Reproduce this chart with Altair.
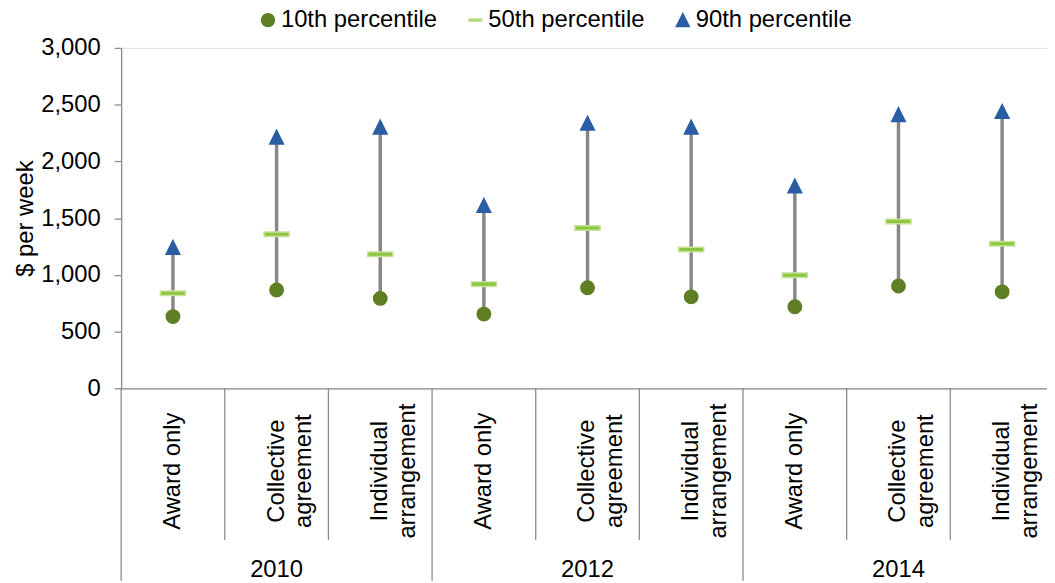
import json
import altair as alt
import pandas as pd

# ---- data ----
years = ["2010", "2012", "2014"]
categories = ["Award only", "Collective agreement", "Individual arrangement"]
category_lines = [["Award only"], ["Collective", "agreement"], ["Individual", "arrangement"]]
series_names = ["10th percentile", "50th percentile", "90th percentile"]

p10 = [632, 866, 792, 654, 886, 806, 719, 902, 850]
p50 = [837, 1358, 1181, 918, 1413, 1223, 997, 1471, 1273]
p90 = [1242, 2214, 2302, 1611, 2337, 2302, 1783, 2412, 2440]

y_ticks = [0, 500, 1000, 1500, 2000, 2500, 3000]

# ---- tables ----
keys = [f"{y}|{c}" for y in years for c in categories]
wide = pd.DataFrame({"key": keys, "p10": p10, "p50": p50, "p90": p90})
long = pd.DataFrame(
    [{"key": k, "series": s, "value": v}
     for k, a, b, c in zip(keys, p10, p50, p90)
     for s, v in zip(series_names, (a, b, c))]
)
cat_sep = pd.DataFrame({"key": [k for i, k in enumerate(keys) if i % 3 != 0]})
year_sep = pd.DataFrame({"key": [k for i, k in enumerate(keys) if i % 3 == 0]})
year_lab = pd.DataFrame({"key": [f"{y}|{categories[1]}" for y in years], "year": years})

# ---- styling / layout ----
FONT = "Liberation Sans"
GRAY = "#878787"
AX = "#8c8c8c"
PLOT_W = 940
VIEW_W = 933
H = 343

label_expr = " : ".join(
    f"indexof(datum.value, {json.dumps(c)}) >= 0 ? {json.dumps(l)}"
    for c, l in zip(categories, category_lines)
) + " : datum.value"

x_scale = alt.Scale(domain=keys, range=[0, PLOT_W], paddingInner=0, paddingOuter=0)

x_main = alt.X(
    "key:N",
    scale=x_scale,
    title=None,
    axis=alt.Axis(
        labelExpr=label_expr,
        labelAngle=270,
        labelAlign="center",
        labelBaseline="middle",
        labelPadding=83,
        labelLineHeight=28,
        labelFontSize=24,
        labelColor="black",
        labelFont=FONT,
        ticks=False,
        tickSize=0,
        domainColor=AX,
        domainWidth=1.3,
        grid=False,
        labelOverlap=False,
    ),
)

y_enc = alt.Y(
    "p10:Q",
    scale=alt.Scale(domain=[0, 3000]),
    axis=alt.Axis(
        values=y_ticks,
        format=",.0f",
        title="$ per week",
        titleFontSize=24,
        titleFontWeight="normal",
        titleFont=FONT,
        titleColor="black",
        titlePadding=3,
        labelFontSize=24,
        labelFont=FONT,
        labelColor="black",
        labelPadding=14,
        tickSize=7,
        tickColor=AX,
        tickWidth=1.3,
        domainColor=AX,
        domainWidth=1.3,
        grid=False,
    ),
)

ranges = alt.Chart(wide).mark_rule(color=GRAY, strokeWidth=3.5).encode(
    x=x_main, y=y_enc, y2="p90:Q"
)

shape_paths = ["circle", "M-1,-0.18H1V0.18H-1Z", "M0,-1L1,1L-1,1Z"]
fills = ["#5f7f23", "#8dc63f", "#2a5da4"]
strokes = ["#5f7f23", "#c6e29d", "#2a5da4"]
sizes = [182, 640, 190]

legend = alt.Legend(
    title=None,
    orient="none",
    legendX=136,
    legendY=-40,
    direction="horizontal",
    labelFontSize=24,
    labelFont=FONT,
    labelColor="black",
    labelLimit=400,
    symbolSize=170,
    symbolStrokeWidth=1.5,
    labelOffset=1,
    columnPadding=26,
)

point_layers = []
for i, (s, sz) in enumerate(zip(series_names, sizes)):
    point_layers.append(
        alt.Chart(long)
        .transform_filter(alt.datum.series == s)
        .mark_point(filled=True, opacity=1, strokeWidth=1.5, size=sz)
        .encode(
            x="key:N",
            y="value:Q",
            fill=alt.Fill(
                "series:N",
                scale=alt.Scale(domain=series_names, range=fills),
                legend=legend if i == 0 else alt.Legend(title=None),
            ),
            stroke=alt.Stroke("series:N", scale=alt.Scale(domain=series_names, range=strokes)),
            shape=alt.Shape("series:N", scale=alt.Scale(domain=series_names, range=shape_paths)),
        )
    )

cat_rules = alt.Chart(cat_sep).mark_rule(color=AX, strokeWidth=1.3).encode(
    x=alt.X("key:N", bandPosition=0),
    y=alt.value(H),
    y2=alt.value(H + 153),
)
year_rules = alt.Chart(year_sep).mark_rule(color=AX, strokeWidth=1.3).encode(
    x=alt.X("key:N", bandPosition=0),
    y=alt.value(H),
    y2=alt.value(H + 194),
)
year_text = alt.Chart(year_lab).mark_text(
    fontSize=24, font=FONT, color="black", baseline="middle"
).encode(
    x="key:N",
    y=alt.value(H + 183),
    text="year:N",
)

chart = (
    alt.layer(ranges, cat_rules, year_rules, *point_layers, year_text)
    .properties(
        width=VIEW_W,
        height=H,
        autosize=alt.AutoSizeParams(type="none"),
        padding={"left": 114, "top": 38, "right": 0, "bottom": 194},
    )
    .configure_view(stroke=None)
    .configure(font=FONT)
)

chart.save("out.html", embed_options={"renderer": "svg", "actions": False})
